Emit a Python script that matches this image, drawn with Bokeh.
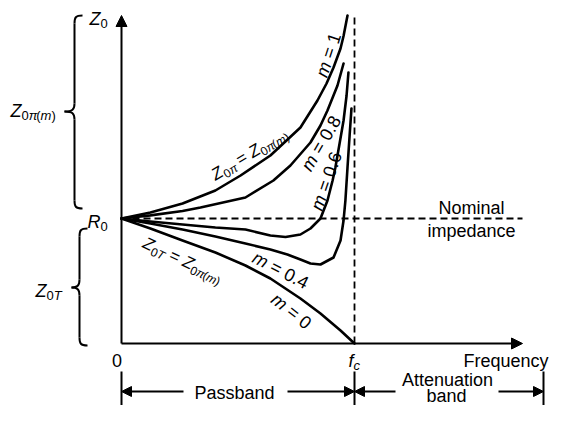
import math
from bokeh.plotting import figure
from bokeh.models import Range1d, Arrow, NormalHead
from bokeh.core.properties import value
from bokeh.embed import file_html
from bokeh.resources import INLINE

# ---------------- data (x = f / fc, y = Z / R0) ----------------
m1_x = [0.0, 0.124, 0.262, 0.403, 0.511, 0.639, 0.768, 0.841, 0.880, 0.910, 0.940, 0.953, 0.970]
m1_y = [1.0, 1.048, 1.120, 1.224, 1.344, 1.504, 1.728, 1.944, 2.080, 2.208, 2.360, 2.460, 2.624]

m08_x = [0.0, 0.124, 0.262, 0.339, 0.532, 0.652, 0.725, 0.811, 0.854, 0.884, 0.927, 0.953]
m08_y = [1.0, 1.025, 1.060, 1.088, 1.168, 1.304, 1.424, 1.608, 1.744, 1.864, 2.064, 2.240]

m06_x = [0.0, 0.124, 0.262, 0.403, 0.532, 0.639, 0.704, 0.768, 0.811, 0.854, 0.884, 0.906, 0.918, 0.936, 0.953, 0.966, 0.974]
m06_y = [1.0, 0.976, 0.952, 0.928, 0.912, 0.864, 0.852, 0.872, 0.920, 1.000, 1.144, 1.304, 1.408, 1.600, 1.784, 1.984, 2.168]

m04_x = [0.0, 0.124, 0.262, 0.403, 0.532, 0.639, 0.712, 0.768, 0.811, 0.854, 0.910, 0.940, 0.953, 0.961, 0.970, 0.979, 0.987]
m04_y = [1.0, 0.960, 0.912, 0.856, 0.800, 0.752, 0.712, 0.672, 0.640, 0.632, 0.688, 0.824, 0.984, 1.144, 1.408, 1.664, 1.880]

m0_x = [0.0, 0.124, 0.262, 0.403, 0.532, 0.639, 0.768, 0.854, 0.940, 1.0]
m0_y = [1.0, 0.920, 0.824, 0.728, 0.624, 0.520, 0.360, 0.240, 0.104, 0.0]

curves = [(m1_x, m1_y), (m08_x, m08_y), (m06_x, m06_y), (m04_x, m04_y), (m0_x, m0_y)]

nominal_y = 1.0      # R0
cutoff_x = 1.0       # fc
tick_x = [0.0, 1.0]
tick_text = ["0", "fc"]

# ---------------- layout mapping (picture pixels -> data) ----------------
PX0, PXS = 121.0, 233.0
PY0, PYS = 343.0, 125.0
def X(px): return (px - PX0) / PXS
def Y(py): return (PY0 - py) / PYS

W, H = 549, 405
p = figure(width=W, height=H,
           x_range=Range1d(X(0), X(W)), y_range=Range1d(Y(H), Y(0)),
           x_axis_type=None, y_axis_type=None, toolbar_location=None,
           output_backend="svg", min_border=0, outline_line_color=None,
           background_fill_color="white", border_fill_color="white")

INK = "black"
FONT = "Liberation Sans"
BASE_FIX = 0.26   # renderer draws the alphabetic baseline a bit low: lift by this * size

# ---------------- text helpers ----------------
groups = {}
def put(px, py, txt, size, style="normal", ang=0.0, align="left", base="alphabetic"):
    k = BASE_FIX * size
    px -= k * math.sin(ang)
    py -= k * math.cos(ang)
    key = (size, style, align, base)
    g = groups.setdefault(key, dict(x=[], y=[], text=[], angle=[]))
    g["x"].append(X(px)); g["y"].append(Y(py)); g["text"].append(txt); g["angle"].append(ang)

EM = {'Z': .611, '0': .556, '1': .556, '4': .556, '6': .556, '8': .556, 'π': .58, '=': .584,
      ' ': .278, '(': .333, ')': .333, 'm': .833, 'T': .611, '.': .278, 'R': .722, 'f': .278, 'c': .5}
def tw(s, size): return size * sum(EM.get(c, .556) for c in s)

def rich(px, py, deg, parts, main=18, sub=13, mode="center"):
    th = math.radians(deg)
    ux, uy = math.cos(th), -math.sin(th)
    vx, vy = math.sin(th), math.cos(th)
    total = sum(tw(t, sub if s else main) for t, s, _ in parts)
    if mode == "center":
        u0, v0 = -total / 2, 0.36 * main
    else:
        u0, v0 = 0.0, 0.0
    u = u0
    for t, s, it in parts:
        size = sub if s else main
        if t.strip():
            v = v0 + (0.2 * main if s else 0.0)
            put(px + u * ux + v * vx, py + u * uy + v * vy, t, size,
                "italic" if it else "normal", th)
        u += tw(t, size)

SP = (" ", 0, 0)
Z0PI = [("Z", 0, 1), ("0", 1, 0), ("π", 1, 1)]
Z0PIM = [("Z", 0, 1), ("0", 1, 0), ("π", 1, 1), ("(", 1, 0), ("m", 1, 1), (")", 1, 0)]
Z0T = [("Z", 0, 1), ("0", 1, 0), ("T", 1, 1)]
EQ = [SP, ("=", 0, 0), SP]
def m_eq(v): return [("m", 0, 1)] + EQ + [(v, 0, 0)]

# ---------------- axes ----------------
def arrow(x0, y0, x1, y1, size=11):
    p.add_layout(Arrow(end=NormalHead(size=size, fill_color=INK, line_color=INK, line_width=1),
                       x_start=x0, y_start=y0, x_end=x1, y_end=y1,
                       line_width=2, line_color=INK))

arrow(0, 0, 0, Y(15))
arrow(0, 0, X(522), 0)

# dashed guide lines
p.line([cutoff_x, cutoff_x], [0, Y(15)], line_color=INK, line_width=1.8, line_dash="7 4")
p.line([0, X(522)], [nominal_y, nominal_y], line_color=INK, line_width=1.8, line_dash="7 4")

# ---------------- curves ----------------
for cx, cy in curves:
    p.line(cx, cy, line_color=INK, line_width=2.6, line_join="round", line_cap="round")

# ---------------- braces ----------------
def brace(xl, ytop, ybot, ytip, xtip, xhook, r=8):
    bx0, by0, bx1, by1, c0x, c0y, c1x, c1y = ([] for _ in range(8))
    def bz(a, b, c, d):
        bx0.append(X(a[0])); by0.append(Y(a[1])); bx1.append(X(d[0])); by1.append(Y(d[1]))
        c0x.append(X(b[0])); c0y.append(Y(b[1])); c1x.append(X(c[0])); c1y.append(Y(c[1]))
    bz((xhook, ytop), (xl + 1, ytop), (xl, ytop + 2), (xl, ytop + r))
    bz((xl, ytip - r), (xl, ytip - 2), (xl - 2, ytip), (xtip, ytip))
    bz((xtip, ytip), (xl - 2, ytip), (xl, ytip + 2), (xl, ytip + r))
    bz((xl, ybot - r), (xl, ybot - 2), (xl + 1, ybot), (xhook, ybot))
    p.bezier(x0=bx0, y0=by0, x1=bx1, y1=by1, cx0=c0x, cy0=c0y, cx1=c1x, cy1=c1y,
             line_color=INK, line_width=2)
    p.segment(x0=[X(xl), X(xl)], y0=[Y(ytop + r), Y(ytip + r)],
              x1=[X(xl), X(xl)], y1=[Y(ytip - r), Y(ybot - r)], line_color=INK, line_width=2)

brace(74, 15, 208, 111, 64, 82)
brace(79, 228, 345, 287, 71, 87)

# ---------------- band dimension lines ----------------
band_end = X(543)
p.segment(x0=[tick_x[0], tick_x[1], band_end], y0=[Y(371)] * 3,
          x1=[tick_x[0], tick_x[1], band_end], y1=[Y(405)] * 3, line_color=INK, line_width=2)
ya = Y(391)
arrow(X(183), ya, tick_x[0], ya, 10)
arrow(X(287), ya, tick_x[1], ya, 10)
arrow(X(395), ya, tick_x[1], ya, 10)
arrow(X(498), ya, band_end, ya, 10)

# ---------------- texts ----------------
put(116.5, 365, tick_text[0], 18, align="center")
rich(348, 365, 0, [("f", 0, 1), ("c", 1, 1)], mode="start")
put(548, 365, "Frequency", 18, align="right")
put(234, 397, "Passband", 18, align="center")
put(447, 384, "Attenuation", 18, align="center")
put(446, 400, "band", 18, align="center")
put(471, 212, "Nominal", 18, align="center")
put(471, 235, "impedance", 18, align="center")

rich(89, 23, 0, [("Z", 0, 1), ("0", 1, 0)], mode="start")
rich(87, 226, 0, [("R", 0, 1), ("0", 1, 0)], mode="start")
rich(10, 115, 0, Z0PIM, mode="start")
rich(35, 295, 0, Z0T, mode="start")

rich(326, 54, 72, m_eq("1"), main=18, sub=13)
rich(248, 152, 31, Z0PI + EQ + Z0PIM, main=17, sub=12)
rich(319, 142, 60, m_eq("0.8"), main=18, sub=13)
rich(324, 180, 71, m_eq("0.6"), main=18, sub=13)
rich(281, 268, -27, m_eq("0.4"), main=18, sub=13)
rich(292, 309, -38, m_eq("0"), main=18, sub=13)
rich(183, 258, -25, Z0T + EQ + Z0PIM, main=17, sub=12)

for (size, style, align, base), g in groups.items():
    p.text(x=g["x"], y=g["y"], text=g["text"], angle=g["angle"],
           text_font=value(FONT), text_font_size=f"{size}px", text_font_style=style,
           text_align=align, text_baseline=base, text_color=INK)

open("out.html", "w").write(file_html(p, INLINE))
